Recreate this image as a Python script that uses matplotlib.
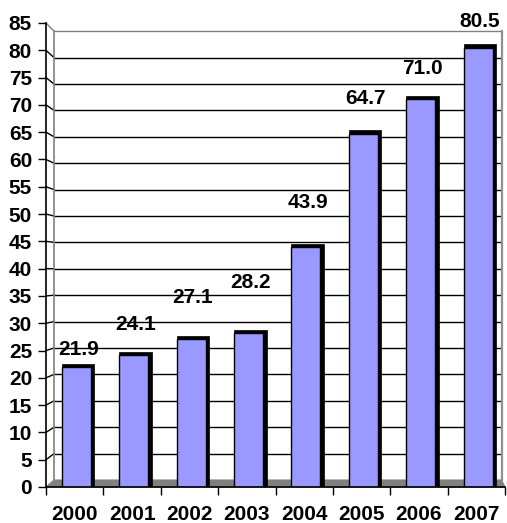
import matplotlib
matplotlib.use("Agg")
import matplotlib.pyplot as plt
from matplotlib.patches import Rectangle, Polygon

# ---- data ----
years = ["2000", "2001", "2002", "2003", "2004", "2005", "2006", "2007"]
values = [21.9, 24.1, 27.1, 28.2, 43.9, 64.7, 71.0, 80.5]
value_labels = ["21.9", "24.1", "27.1", "28.2", "43.9", "64.7", "71.0", "80.5"]
y_ticks = list(range(0, 90, 5))

# label lift above bar tops (data units)
label_lift = [3.2, 5.6, 7.7, 9.2, 8.3, 6.5, 5.7, 4.7]

plt.rcParams['font.family'] = ['Liberation Sans', 'DejaVu Sans']
FS = 15

W, H = 507, 523
fig = plt.figure(figsize=(W / 100, H / 100), dpi=100)
fig.patch.set_facecolor("white")

# front axes: x from px 46 to 505, y 0 at px 487, 85 at px 23
ax = fig.add_axes([46 / W, (H - 487) / H, 459 / W, 464 / H])
ax.set_xlim(-0.5, 7.5)
ax.set_ylim(0, 85)
ax.set_facecolor("none")
for s in ax.spines.values():
    s.set_visible(False)

px_x = 459 / 8.0      # px per category
px_y = 464 / 85.0     # px per unit (front)

def wall_y(v):
    # back wall: 0 at px 480, 85 at px ~31
    return (7 + 5.28 * v) / px_y

wall_left = -0.5 + 8 / px_x
wall_right = -0.5 + 455.5 / px_x

# floor
floor = Polygon([(-0.5, 0), (7.5, 0), (wall_right, wall_y(0)), (wall_left, wall_y(0))],
                closed=True, facecolor="#808080", edgecolor="#808080", lw=0.8,
                zorder=1, clip_on=False)
ax.add_patch(floor)

# back wall gridlines and connectors
for v in y_ticks:
    if v == 0:
        continue
    col = "#808080" if v == 85 else "black"
    ax.plot([wall_left, wall_right], [wall_y(v), wall_y(v)], color=col, lw=1.0,
            zorder=1, clip_on=False, solid_capstyle="butt")
    ax.plot([-0.5, wall_left], [v, wall_y(v)], color=col, lw=1.0,
            zorder=1, clip_on=False)
# wall borders
ax.plot([wall_left, wall_left], [wall_y(0), wall_y(85)], color="#808080", lw=1.2,
        zorder=1, clip_on=False)
ax.plot([wall_right, wall_right], [wall_y(0), wall_y(85)], color="#909090", lw=1.6,
        zorder=1, clip_on=False)

# bars with black 3D shadow
bar_w = 29 / px_x
dx = 3.5 / px_x
dy = 3.5 / px_y
shift = 1.8 / px_x
for i, v in enumerate(values):
    x0 = i - bar_w / 2 + shift
    ax.add_patch(Rectangle((x0, 0), bar_w + dx, v + dy, facecolor="black",
                           edgecolor="black", lw=0.5, zorder=3))
    ax.add_patch(Rectangle((x0, 0), bar_w, v, facecolor="#9999FF",
                           edgecolor="black", lw=1.0, zorder=4))
    ax.text(i + 0.06, v + label_lift[i], value_labels[i], ha="center", va="center",
            fontsize=FS, fontweight="bold", color="black", zorder=5)

# axis lines
ax.plot([-0.5, -0.5], [0, 85], color="black", lw=1.2, zorder=5, clip_on=False)
ax.plot([-0.5, 7.5], [0, 0], color="black", lw=1.2, zorder=5, clip_on=False)

# ticks
ax.set_yticks(y_ticks)
ax.set_yticklabels([str(t) for t in y_ticks], fontsize=FS, fontweight="bold")
ax.tick_params(axis="y", length=6, width=1, pad=4, direction="out", color="black")
ax.set_xticks([i - 0.5 for i in range(len(years) + 1)])
ax.set_xticklabels([""] * (len(years) + 1))
ax.set_xticks(range(len(years)), minor=True)
ax.set_xticklabels(years, minor=True, fontsize=FS, fontweight="bold")
ax.tick_params(axis="x", which="major", length=6, width=1, color="black")
ax.tick_params(axis="x", which="minor", length=0, pad=13)

fig.savefig("out.png", dpi=100, facecolor="white")
